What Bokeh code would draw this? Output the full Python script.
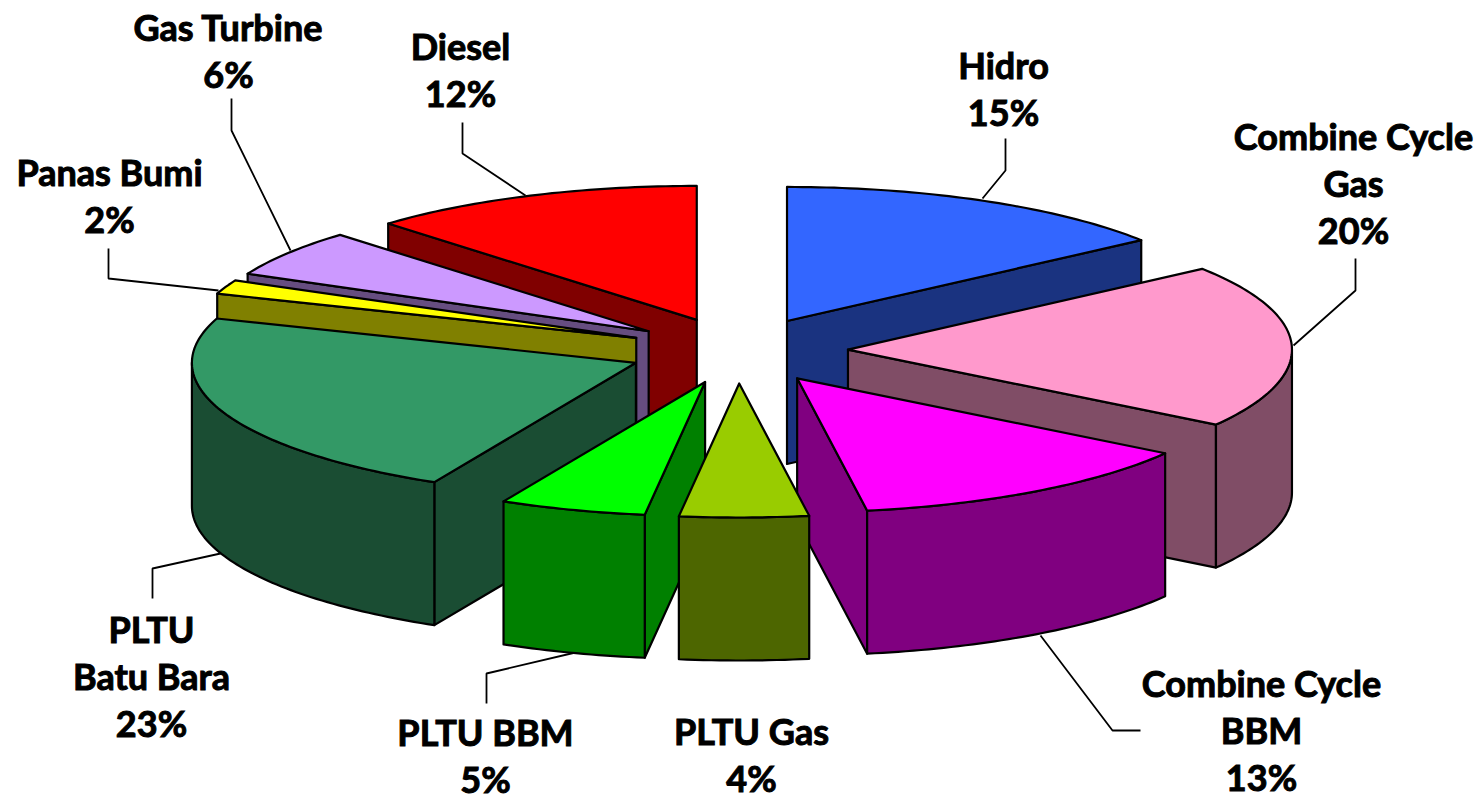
import math
from bokeh.plotting import figure
from bokeh.models import Range1d
from bokeh.core.properties import value
from bokeh.embed import file_html
from bokeh.resources import INLINE

# --- data -------------------------------------------------------------
categories = ["Hidro", "Combine Cycle Gas", "Combine Cycle BBM", "PLTU Gas", "PLTU BBM",
              "PLTU Batu Bara", "Panas Bumi", "Gas Turbine", "Diesel"]
shares = [14.7, 19.75, 13.03, 4.69, 5.33, 22.86, 1.7, 5.71, 12.23]
percent_labels = ["15%", "20%", "13%", "4%", "5%", "23%", "2%", "6%", "12%"]
name_lines = [["Hidro"], ["Combine Cycle", "Gas"], ["Combine Cycle", "BBM"], ["PLTU Gas"], ["PLTU BBM"],
              ["PLTU", "Batu Bara"], ["Panas Bumi"], ["Gas Turbine"], ["Diesel"]]

# --- styles and layout ------------------------------------------------
top_colors = ["#3366FF", "#FF99CC", "#FF00FF", "#99CC00", "#00FF00", "#339966", "#FFFF00", "#CC99FF", "#FF0000"]
side_colors = ["#1A3380", "#804D66", "#800080", "#4D6600", "#008000", "#1A4D33", "#808000", "#664D80", "#800000"]
CX, CY, RX, RY, DEPTH, EX, EY = 737.5, 350.0, 444.0, 134.0, 143.0, 110.0, 33.0
label_x = [1003, 1353, 1261, 751, 485, 151, 109, 228, 460]
label_y = [64, 135, 682, 730, 731, 628, 171, 26, 45]
LINE_H = 47
leaders = [
    [(982, 198), (1005, 170), (1005, 138)],
    [(1293, 345), (1355, 290), (1355, 258)],
    [(1040, 635), (1112, 730), (1140, 730)],
    None,
    [(575, 652), (486, 673), (486, 703)],
    [(220, 553), (152, 568), (152, 598)],
    [(218, 290), (108, 278), (108, 248)],
    [(290, 250), (231, 130), (231, 98)],
    [(525, 195), (462, 153), (462, 122)],
]
FONT = "Lato"
FONT_PX = 36

# --- geometry ---------------------------------------------------------
total = sum(shares)
edges = [0.0]
for s in shares:
    edges.append(edges[-1] + 360.0 * s / total)


def rim(ax, ay, deg):
    t = math.radians(deg)
    return ax + RX * math.sin(t), ay - RY * math.cos(t)


xs, ys, fills = [], [], []
slices = []
for i in range(len(shares)):
    a0, a1 = edges[i], edges[i + 1]
    mid = math.radians((a0 + a1) / 2)
    slices.append((-math.cos(mid), i, a0, a1, CX + EX * math.sin(mid), CY - EY * math.cos(mid)))

for _, i, a0, a1, ax, ay in sorted(slices):
    # radial faces turned to the viewer
    if a0 > 180:
        rx0, ry0 = rim(ax, ay, a0)
        xs.append([ax, rx0, rx0, ax]); ys.append([ay, ry0, ry0 + DEPTH, ay + DEPTH]); fills.append(side_colors[i])
    if a1 < 180:
        rx1, ry1 = rim(ax, ay, a1)
        xs.append([ax, rx1, rx1, ax]); ys.append([ay, ry1, ry1 + DEPTH, ay + DEPTH]); fills.append(side_colors[i])
    # outer wall, front half only
    w0, w1 = max(a0, 90.0), min(a1, 270.0)
    if w1 > w0:
        n = max(2, int(w1 - w0) + 1)
        arc = [rim(ax, ay, w0 + (w1 - w0) * k / (n - 1)) for k in range(n)]
        xs.append([q[0] for q in arc] + [q[0] for q in reversed(arc)])
        ys.append([q[1] for q in arc] + [q[1] + DEPTH for q in reversed(arc)])
        fills.append(side_colors[i])
    # top face
    n = max(2, int(a1 - a0) + 1)
    arc = [rim(ax, ay, a0 + (a1 - a0) * k / (n - 1)) for k in range(n)]
    xs.append([ax] + [q[0] for q in arc]); ys.append([ay] + [q[1] for q in arc]); fills.append(top_colors[i])

# --- figure -----------------------------------------------------------
p = figure(width=1482, height=799, output_backend="svg", toolbar_location=None,
           x_range=Range1d(0, 1482), y_range=Range1d(799, 0), min_border=0,
           outline_line_color=None, background_fill_color="white")
p.axis.visible = False
p.grid.visible = False

for lead in leaders:
    if lead:
        p.line([q[0] for q in lead], [q[1] for q in lead], line_color="black", line_width=1.8)

p.patches(xs, ys, fill_color=fills, line_color="black", line_width=2.2, line_join="round")

tx, ty, tt = [], [], []
for i in range(len(categories)):
    rows = name_lines[i] + [percent_labels[i]]
    for k, row in enumerate(rows):
        tx.append(label_x[i]); ty.append(label_y[i] + k * LINE_H); tt.append(row)
p.text(tx, ty, text=tt, text_align="center", text_baseline="middle", text_color="black",
       text_outline_color="black",
       text_font=value(FONT), text_font_style="bold", text_font_size=f"{FONT_PX}px")

open("out.html", "w").write(file_html(p, INLINE))
